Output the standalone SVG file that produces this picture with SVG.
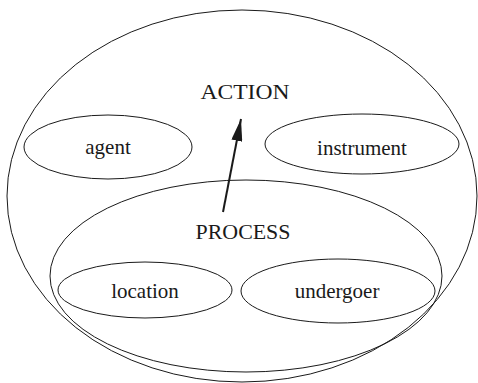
<svg xmlns="http://www.w3.org/2000/svg" width="478" height="383" viewBox="0 0 478 383">
<style>
.e{fill:none;stroke:#1a1a1a;stroke-width:1}
.t{font-family:"Liberation Serif",serif;font-size:21px;fill:#1a1a1a;text-anchor:middle}
</style>
<defs>
<marker id="ah" viewBox="0 0 20 10" refX="20" refY="5" markerWidth="11" markerHeight="5.5" orient="auto" markerUnits="strokeWidth">
<path d="M0,0 L20,5 L0,10 z" fill="#1a1a1a"/>
</marker>
</defs>
<rect width="478" height="383" fill="#fff"/>
<g id="action">
<ellipse class="e" cx="242" cy="196" rx="235" ry="186"/>
<text class="t" x="245" y="99" style="font-size:22px" textLength="89" lengthAdjust="spacingAndGlyphs">ACTION</text>
</g>
<g id="agent">
<ellipse class="e" cx="108" cy="147" rx="84" ry="32"/>
<text class="t" x="108" y="154">agent</text>
</g>
<g id="instrument">
<ellipse class="e" cx="362" cy="144" rx="97" ry="30"/>
<text class="t" x="362" y="155">instrument</text>
</g>
<g id="process">
<ellipse class="e" cx="246" cy="276" rx="196" ry="96"/>
<text class="t" x="243" y="239" textLength="95" lengthAdjust="spacingAndGlyphs">PROCESS</text>
</g>
<g id="location">
<ellipse class="e" cx="145" cy="290" rx="87" ry="28"/>
<text class="t" x="145" y="298">location</text>
</g>
<g id="undergoer">
<ellipse class="e" cx="338" cy="291" rx="97" ry="32"/>
<text class="t" x="337" y="298">undergoer</text>
</g>
<g id="connectors">
<line x1="223" y1="212" x2="241" y2="119" stroke="#1a1a1a" stroke-width="2" marker-end="url(#ah)"/>
</g>
</svg>
